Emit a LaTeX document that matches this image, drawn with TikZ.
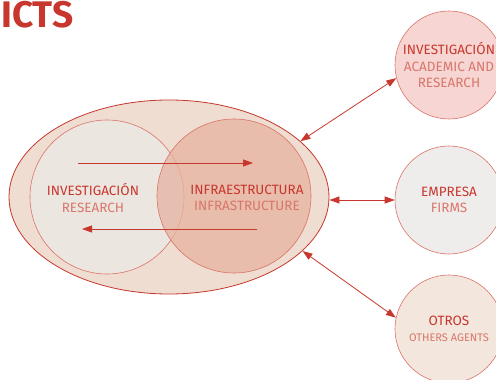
\documentclass[tikz,border=0pt]{standalone}
\usepackage{fontspec}
\setmainfont{Fira Sans}
\usetikzlibrary{shapes.geometric,arrows.meta}
\definecolor{ictred}{HTML}{C8372D}
\definecolor{ictsoft}{HTML}{D9766B}
\definecolor{ictline}{HTML}{DC7268}
\definecolor{sand}{HTML}{EEDDD0}
\definecolor{paper}{HTML}{ECE6E1}
\definecolor{peach}{HTML}{E6B3A0}
\definecolor{rose}{HTML}{F6D5D3}
\definecolor{mist}{HTML}{EFEDEC}
\definecolor{linen}{HTML}{F2E6DD}
\newcommand{\tmain}[1]{{\color{ictred}#1}}
\newcommand{\tsub}[1]{{\color{ictsoft}#1}}

\begin{document}
\begin{tikzpicture}[x=1pt,y=-1pt,
	font=\fontsize{13.5}{16.5}\selectfont,
	blob/.style={ellipse, draw=ictred, line width=0.8pt, fill=sand, minimum width=320pt, minimum height=194pt},
	bubble/.style={circle, draw=ictline, line width=0.6pt, minimum size=154pt, inner sep=0pt, align=center},
	agent/.style={circle, draw=ictline, line width=0.6pt, minimum size=108pt, inner sep=0pt, align=center},
	flow/.style={-{Triangle[length=10pt,width=7pt]}, ictred, line width=0.8pt},
	link/.style={{Triangle[length=10pt,width=7pt]}-{Triangle[length=10pt,width=7pt]}, ictred, line width=0.8pt}]
				%\draw[help lines] (0,0) grid (496,380);
				\useasboundingbox (0,0) rectangle (496,380);
				
				\node[anchor=north west, inner sep=0pt, font=\fontsize{37}{37}\selectfont\bfseries, text=ictred] (title) at (1,1) {ICTS};
				
				\node[blob] (big) at (169,197) {};
				\node[bubble, fill=paper] (res) at (107,197) {};
				\node[bubble, fill=peach, fill opacity=0.75] (inf) at (234,196) {};
				\node[align=center] (restext) at (93,198) {\tmain{INVESTIGACIÓN}\\\tsub{RESEARCH}};
				\node[align=center] (inftext) at (247,198) {\tmain{INFRAESTRUCTURA}\\\tsub{INFRASTRUCTURE}};
				
				\coordinate (fwda) at (78,163);
				\coordinate (fwdb) at (253,163);
				\coordinate (bcka) at (257,229);
				\coordinate (bckb) at (82,229);
				\draw[flow] (fwda) -- (fwdb);
				\draw[flow] (bcka) -- (bckb);
				
				\node[agent, fill=rose] (acad) at (449,65) {\tmain{INVESTIGACIÓN}\\\tsub{ACADEMIC AND}\\\tsub{RESEARCH}};
				\node[agent, fill=mist] (firms) at (449,200) {\tmain{EMPRESA}\\\tsub{FIRMS}};
				\node[agent, fill=linen] (other) at (449,329) {\tmain{OTROS}\\\tsub{\fontsize{11}{13}\selectfont OTHERS AGENTS}};
				
				\draw[link] (big.23) -- (acad.194);
				\draw[link] (big.east |- firms.west) -- (firms.west);
				\draw[link] (big.-22) -- (other.168);
\end{tikzpicture}
\end{document}
